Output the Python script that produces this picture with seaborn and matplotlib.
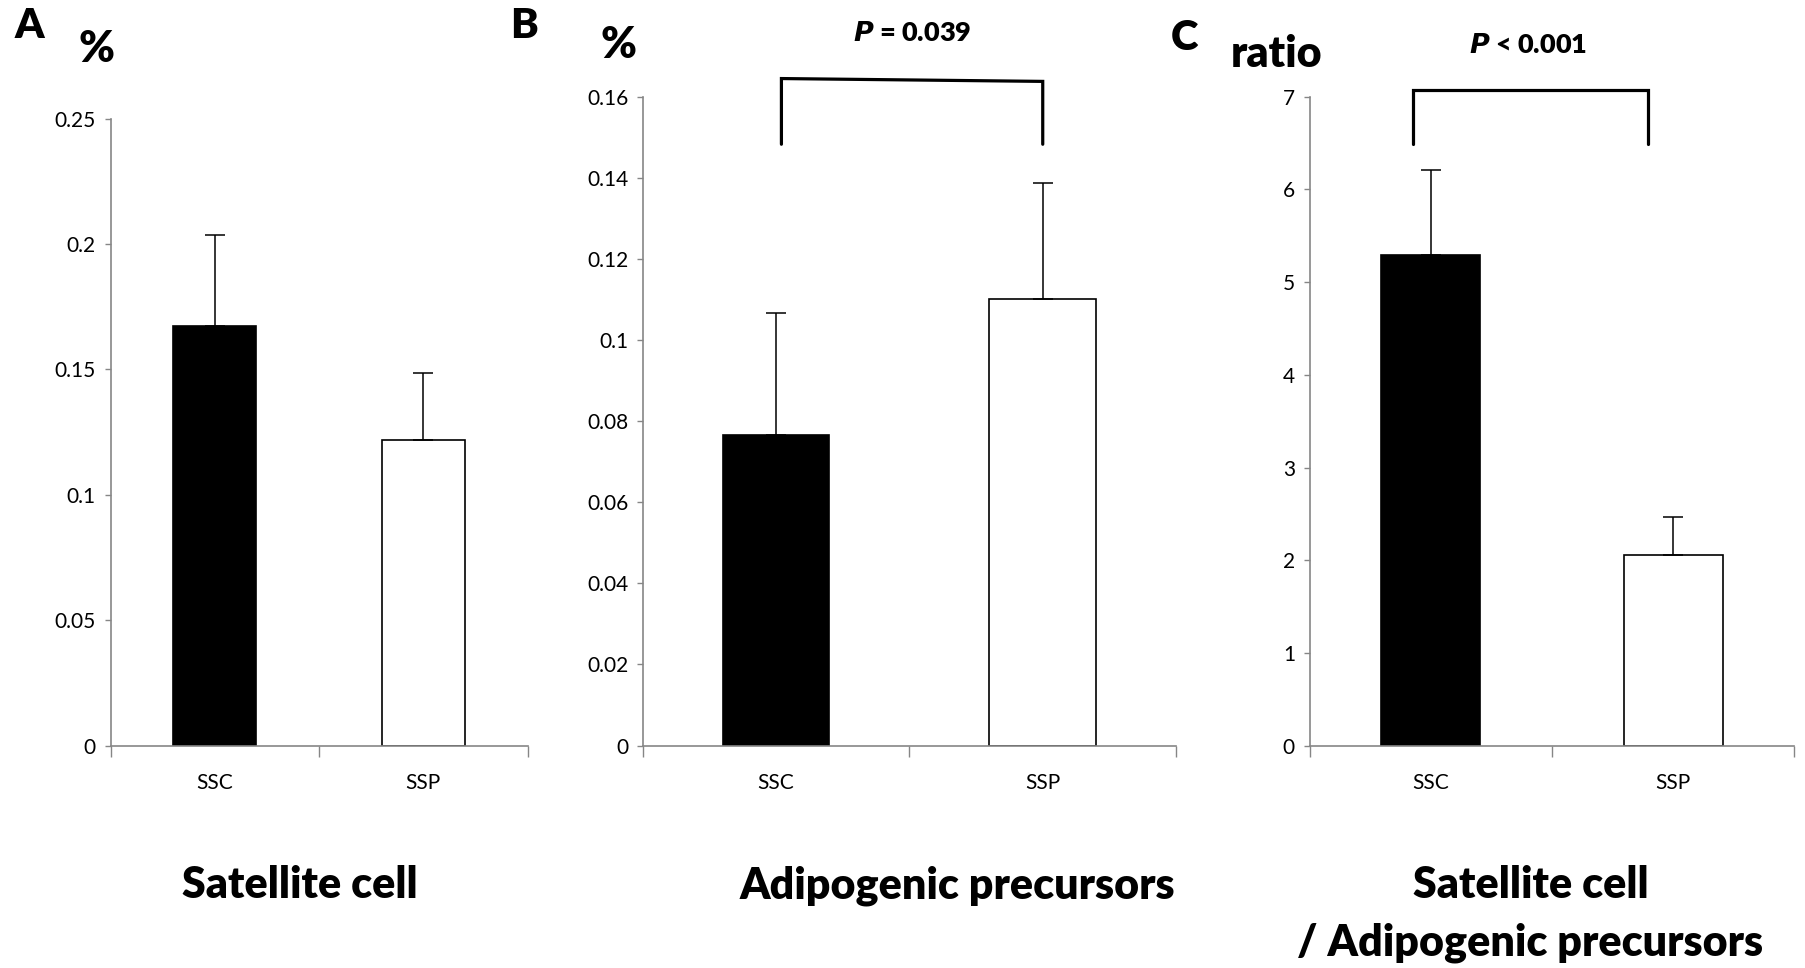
import pandas as pd
import matplotlib
matplotlib.use('Agg')
import matplotlib.pyplot as plt
import seaborn as sns

sns.set_style('white')
plt.rcParams['font.family'] = ['Lato', 'DejaVu Sans']
plt.rcParams['text.color'] = 'black'
plt.rcParams['xtick.labelcolor'] = 'black'
plt.rcParams['ytick.labelcolor'] = 'black'

groups = ['SSC', 'SSP']

# A: satellite cell (%)
sat_mean = [0.1675, 0.1218]
sat_err = [0.0362, 0.0268]
# B: adipogenic precursors (%)
adi_mean = [0.0767, 0.1101]
adi_err = [0.0300, 0.0287]
# C: ratio satellite / adipogenic
ratio_mean = [5.29, 2.06]
ratio_err = [0.925, 0.41]

bar_colors = {'SSC': 'black', 'SSP': 'white'}
axis_gray = '#868686'
heavy = 'heavy'

fig = plt.figure(figsize=(18.06, 9.68), dpi=100)
axA = fig.add_axes([0.0612, 0.2298, 0.2309, 0.6476])
axB = fig.add_axes([0.3559, 0.2298, 0.2953, 0.6702])
axC = fig.add_axes([0.7251, 0.2298, 0.2685, 0.6702])


def draw_panel(ax, means, errs, ymax, yticks, width):
    df = pd.DataFrame({'group': groups, 'value': means})
    sns.barplot(data=df, x='group', y='value', hue='group', palette=bar_colors,
                width=width, edgecolor='black', linewidth=1.2, errorbar=None,
                legend=False, ax=ax)
    ax.errorbar([0, 1], means, yerr=[[0, 0], errs], fmt='none', ecolor='black',
                elinewidth=1.1, capsize=7, capthick=1.1)
    ax.set_xlim(-0.5, 1.5)
    ax.set_ylim(0, ymax)
    ax.set_yticks(yticks)
    ax.set_yticklabels([f'{v:g}' for v in yticks])
    ax.set_xticks([0, 1])
    ax.set_xticklabels(groups)
    ax.set_xticks([-0.5, 0.5, 1.5], minor=True)
    ax.set_xlabel('')
    ax.set_ylabel('')
    ax.tick_params(axis='x', which='major', length=0, pad=20, labelsize=15,
                   labelcolor='black')
    ax.tick_params(axis='x', which='minor', length=8, width=1, color=axis_gray,
                   direction='out', bottom=True)
    ax.tick_params(axis='y', length=4.5, width=1, color=axis_gray, direction='out',
                   pad=6, labelsize=15, left=True, labelcolor='black')
    for side in ['top', 'right']:
        ax.spines[side].set_visible(False)
    for side in ['left', 'bottom']:
        ax.spines[side].set_color(axis_gray)
        ax.spines[side].set_linewidth(1.2)


draw_panel(axA, sat_mean, sat_err, 0.25, [0, 0.05, 0.1, 0.15, 0.2, 0.25], 0.40)
draw_panel(axB, adi_mean, adi_err, 0.16, [0, 0.02, 0.04, 0.06, 0.08, 0.1, 0.12, 0.14, 0.16], 0.40)
draw_panel(axC, ratio_mean, ratio_err, 7, [0, 1, 2, 3, 4, 5, 6, 7], 0.41)

# significance brackets
axB.plot([0.02, 0.02, 1.0, 1.0], [0.1483, 0.1645, 0.1638, 0.1483],
         color='black', lw=2.3, clip_on=False, solid_joinstyle='miter')
axC.plot([-0.075, -0.075, 0.895, 0.895], [6.49, 7.07, 7.07, 6.49],
         color='black', lw=2.3, clip_on=False, solid_joinstyle='miter')

# panel letters and unit labels
for x, y, s in [(0.016, 0.9607, 'A'), (0.290, 0.9607, 'B'), (0.656, 0.948, 'C')]:
    fig.text(x, y, s, ha='center', va='baseline', fontsize=30, fontweight=heavy)
fig.text(0.0536, 0.936, '%', ha='center', va='baseline', fontsize=31, fontweight=heavy)
fig.text(0.3425, 0.940, '%', ha='center', va='baseline', fontsize=31, fontweight=heavy)
fig.text(0.707, 0.931, 'ratio', ha='center', va='baseline', fontsize=31, fontweight=heavy)

fig.text(0.505, 0.9576, r'$\bfit{P}$ = 0.039', ha='center', va='baseline',
         fontsize=19.5, fontweight=heavy)
fig.text(0.846, 0.945, r'$\bfit{P}$ < 0.001', ha='center', va='baseline',
         fontsize=19.5, fontweight=heavy)

# bottom titles
fig.text(0.166, 0.0723, 'Satellite cell', ha='center', va='baseline', fontsize=31, fontweight=heavy)
fig.text(0.530, 0.0723, 'Adipogenic precursors', ha='center', va='baseline', fontsize=31, fontweight=heavy)
fig.text(0.8476, 0.0723, 'Satellite cell', ha='center', va='baseline', fontsize=31, fontweight=heavy)
fig.text(0.847, 0.0134, '/ Adipogenic precursors', ha='center', va='baseline', fontsize=31, fontweight=heavy)

fig.savefig('out.png', dpi=100)
